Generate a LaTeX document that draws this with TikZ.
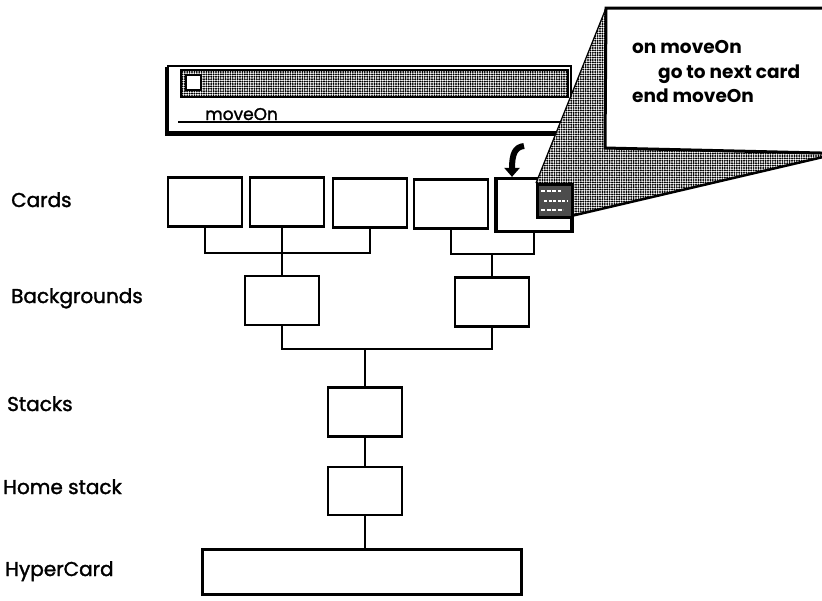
\documentclass[tikz,border=0pt]{standalone}
\usepackage{fontspec}
\setmainfont{Poppins}
\newfontfamily\lblfont{Poppins}[FakeBold=1.6]
\usetikzlibrary{arrows.meta,patterns.meta}
\begin{document}
\begin{tikzpicture}[x=1pt,y=-1pt,
  box/.style={draw, line width=2.3pt, minimum width=74pt, minimum height=49pt, inner sep=0pt, fill=white},
  wire/.style={line width=1.7pt},
  lbl/.style={anchor=base west, font=\lblfont\fontsize{20}{22}\selectfont, inner sep=0pt},
  code/.style={anchor=base west, font=\bfseries\fontsize{18.5}{20}\selectfont, inner sep=0pt},
  dither/.style={pattern={Dots[distance=2.4pt,radius=1.1pt]}, pattern color=black}
]
\useasboundingbox (0,0) rectangle (822,600);
\begin{scope}
\clip (0,0) rectangle (822,600);

% ---- window with field "moveOn"
\draw[line width=2pt, fill=white] (168,66) rectangle (571,132);
\draw[line width=3pt] (166,67) -- (166,134) -- (566,134);
\draw[line width=2pt, dither] (181,70) rectangle (568,97);
\draw[line width=1.6pt, fill=white] (186,75) rectangle (201,90);
\draw[line width=1.5pt] (178,122) -- (568,122);
\node[anchor=base west, font=\lblfont\fontsize{17}{18}\selectfont, inner sep=0pt] (fld) at (205,120) {moveOn};

% ---- labels
\node[lbl] (lc) at (11,207) {Cards};
\node[lbl] (lb) at (11,303) {Backgrounds};
\node[lbl] (ls) at (7,411) {Stacks};
\node[lbl] (lh) at (3,494) {Home stack};
\node[lbl] (ly) at (5,576) {HyperCard};

% ---- hierarchy
\node[box] (c1) at (205,202) {};
\node[box] (c2) at (287,202) {};
\node[box] (c3) at (370,203) {};
\node[box] (c4) at (451,204) {};
\node[box, line width=3.2pt, minimum width=76pt, minimum height=53pt] (c5) at (534,205) {};
\node[box] (b1) at (282,300.5) {};
\node[box] (b2) at (492,302) {};
\node[box] (st) at (365,412) {};
\node[box, minimum height=48pt] (hm) at (365,491) {};
\node[box, minimum width=319pt, minimum height=45pt] (hc) at (362,572) {};

\coordinate (j1) at (0,253);
\coordinate (j2) at (0,254);
\coordinate (j3) at (0,349);
\draw[wire] (c1.south) |- (j1 -| c3) -- (c3.south);
\draw[wire] (b1.north) -- (b1.north |- c2.south);
\draw[wire] (c4.south) |- (j2 -| c5) -- (c5.south);
\draw[wire] (b2.north) -- (b2.north |- j2);
\draw[wire] (b1.south) |- (j3 -| b2) -- (b2.south);
\draw[wire] (st.north) -- (st.north |- j3);
\draw[wire] (st.south) -- (hm.north);
\draw[wire] (hm.south) -- (hm.south |- hc.north);

% ---- pointer arrow
\coordinate (ar) at (524,146);
\draw[line width=6pt, -{Triangle[width=15pt,length=9pt]}] (ar) .. controls (515,147) and (512,154) .. (c5.north -| 512,0);

% ---- zoom callout
\coordinate (sTL) at (536,183);
\coordinate (sBR) at (571,216);
\coordinate (bTL) at (606,8);
\coordinate (bBL) at (605,148);
\fill[white] (sTL) -- (bTL) -- (900,8) -- (900,139) -- (sBR) -- (536,216) -- cycle;
\fill[dither] (sTL) -- (bTL) -- (900,8) -- (900,139) -- (sBR) -- (536,216) -- cycle;
\draw[line width=1.2pt] (sTL) -- (bTL);
\draw[line width=2.5pt] (sBR) -- (900,139);
\filldraw[line width=3pt, fill=white] (bTL) -- (950,8) -- (950,156) -- (bBL) -- cycle;
\node[draw, line width=2.5pt, fill=black!70, minimum width=35pt, minimum height=33pt, inner sep=0pt, anchor=north west] (sb) at (sTL) {};
\draw[white, line width=1.3pt, dash pattern=on 4pt off 1.5pt] (541,191) -- (561,191);
\draw[white, line width=1.3pt, dash pattern=on 3pt off 1.5pt] (544,201) -- (567,201);
\draw[white, line width=1.3pt, dash pattern=on 4pt off 1.5pt] (541,210) -- (563,210);

\node[code] (t1) at (632,53) {on moveOn};
\node[code] (t2) at (658,78) {go to next card};
\node[code] (t3) at (632,102) {end moveOn};
\end{scope}
\end{tikzpicture}
\end{document}
